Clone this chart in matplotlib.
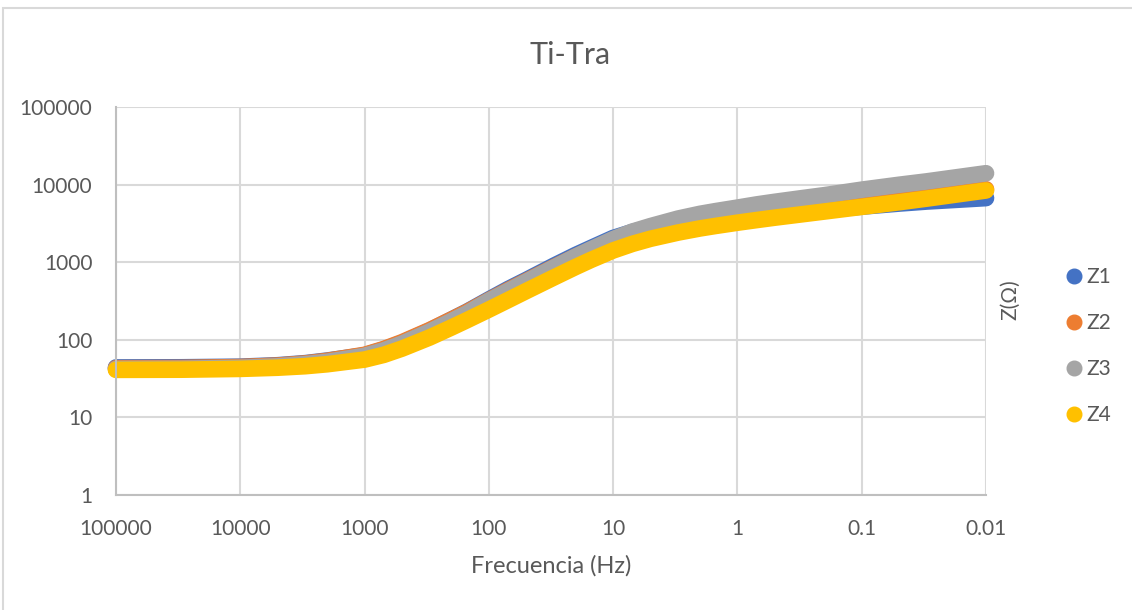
import matplotlib
matplotlib.use("Agg")
import matplotlib.pyplot as plt
from matplotlib.lines import Line2D
from matplotlib.patches import Rectangle

# frequencies (Hz) where the curves were read
freq = [1e5, 3e4, 1e4, 5e3, 3e3, 2e3, 1e3, 700, 500, 300, 200, 150, 100, 70, 50,
        30, 20, 15, 10, 7, 5, 3, 2, 1.5, 1, 0.7, 0.5, 0.3, 0.2, 0.1, 0.05, 0.03, 0.01]

z1 = [44, 44.2, 45, 47, 50, 54, 63, 75, 91, 131, 182, 230, 330, 450, 590,
      900, 1240, 1530, 2050, 2450, 2800, 3200, 3450, 3600, 3800, 4000, 4200, 4500, 4750, 5200, 5700, 6050, 6700]
z2 = [43, 43.3, 44.5, 46.5, 49.5, 53.5, 64, 76, 93, 133, 182, 228, 322, 435, 570,
      860, 1180, 1450, 1900, 2250, 2550, 2950, 3250, 3450, 3700, 3950, 4200, 4600, 4950, 5600, 6400, 7000, 8700]
z3 = [42, 42.3, 43.5, 45.5, 48.5, 52, 62, 73, 89, 127, 174, 219, 318, 425, 560,
      850, 1180, 1470, 1980, 2480, 2920, 3650, 4200, 4550, 5050, 5550, 6000, 6700, 7300, 8600, 9950, 11000, 14000]
z4 = [41, 41.2, 42.2, 43.7, 45.7, 48.4, 55.6, 64, 77, 107, 144, 179, 245, 325, 425,
      635, 869, 1074, 1416, 1722, 2004, 2410, 2723, 2931, 3228, 3491, 3750, 4150, 4498, 5164, 5929, 6600, 8400]

series_names = ["Z1", "Z2", "Z3", "Z4"]
series_colors = ["#4472c4", "#ed7d31", "#a5a5a5", "#ffc000"]

x_ticks = [1e5, 1e4, 1e3, 1e2, 1e1, 1, 0.1, 0.01]
x_labels = ["100000", "10000", "1000", "100", "10", "1", "0.1", "0.01"]
y_ticks = [1, 10, 100, 1000, 10000, 100000]
y_labels = ["1", "10", "100", "1000", "10000", "100000"]

plt.rcParams["font.family"] = ["Lato", "DejaVu Sans"]
text_col = "#595959"
grid_col = "#d9d9d9"

fig = plt.figure(figsize=(11.32, 6.10), dpi=100)
ax = fig.add_axes([116 / 1132, 115 / 610, 870 / 1132, 388 / 610])

for vals, name, col in zip([z1, z2, z3, z4], series_names, series_colors):
    ax.plot(freq, vals, color=col, linewidth=12, solid_capstyle="round",
            solid_joinstyle="round", label=name, clip_on=False)

ax.set_xscale("log")
ax.set_yscale("log")
ax.set_xlim(1e5, 1e-2)
ax.set_ylim(1, 1e5)
ax.set_xticks(x_ticks)
ax.set_xticklabels(x_labels)
ax.set_yticks(y_ticks)
ax.set_yticklabels(y_labels)
ax.minorticks_off()
ax.tick_params(length=0, labelsize=15, colors=text_col)
ax.tick_params(axis="x", pad=17)
ax.tick_params(axis="y", pad=17)

ax.grid(True, color=grid_col, linewidth=1.5)
ax.set_axisbelow(True)
for side in ["top", "right"]:
    ax.spines[side].set_visible(False)
for side in ["left", "bottom"]:
    ax.spines[side].set_color("#bfbfbf")
    ax.spines[side].set_linewidth(1.5)

ax.set_xlabel("Frecuencia (Hz)", fontsize=17, color=text_col, labelpad=12)
fig.text(570 / 1132, 1 - 55 / 610, "Ti-Tra", fontsize=22, color=text_col,
         ha="center", va="center")
fig.text(1010 / 1132, 1 - 300 / 610, "Z(Ω)", fontsize=15, color=text_col,
         rotation=90, ha="center", va="center")

handles = [Line2D([], [], marker="o", linestyle="none", markersize=10.5,
                  markerfacecolor=c, markeredgecolor=c) for c in series_colors]
fig.legend(handles, series_names, loc="center left",
           bbox_to_anchor=(1045 / 1132, 1 - 346 / 610), frameon=False,
           fontsize=15, labelcolor=text_col, handletextpad=0.1,
           labelspacing=1.25, handlelength=1.0)

# light chart-area border
fig.patches.append(Rectangle((3 / 1132, -0.01), 1.0, 1 - 8 / 610 + 0.01,
                             transform=fig.transFigure, fill=False,
                             edgecolor="#d9d9d9", linewidth=1.5))

fig.savefig("out.png", dpi=100)
